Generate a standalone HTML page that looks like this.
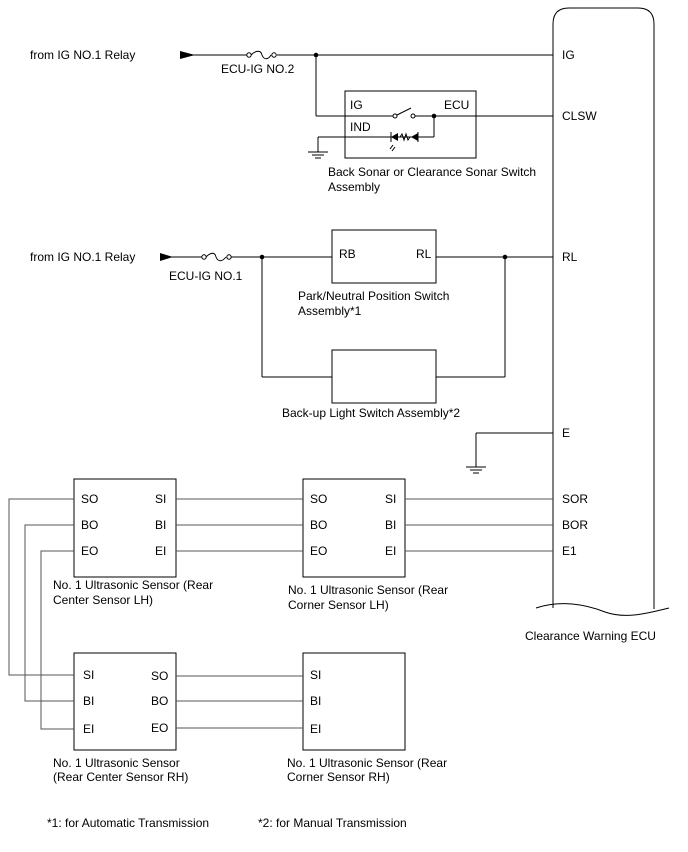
<!DOCTYPE html>
<html><head><meta charset="utf-8"><style>
html,body{margin:0;padding:0;background:#fff;}
svg{display:block;}
text{font-family:"Liberation Sans",Arial,sans-serif;font-size:12px;fill:#000;}
</style></head><body>
<svg width="688" height="852" viewBox="0 0 688 852" xmlns="http://www.w3.org/2000/svg">
<g stroke="#000" stroke-width="1" fill="none">
<path d="M553,608 L553,24 Q553,8 569,8 L638,8 Q654,8 654,24 L654,609"/>
<path d="M536,608 C560,600 585,604 605,612 C625,619 645,614 669,608"/>
<line x1="180" y1="55" x2="248" y2="55"/>
<path d="M251,55 C256,50 261,50 262,55 C264,60 268,60 271,55"/>
<line x1="277" y1="55" x2="553" y2="55"/>
<line x1="316" y1="55" x2="316" y2="116"/>
<rect x="345" y="91" width="131" height="67"/>
<line x1="316" y1="116" x2="393" y2="116"/>
<line x1="397" y1="115" x2="411" y2="108"/>
<line x1="415" y1="116" x2="553" y2="116"/>
<line x1="434" y1="116" x2="434" y2="137"/>
<line x1="318" y1="137" x2="434" y2="137"/>
<line x1="318" y1="137" x2="318" y2="152"/>
<line x1="308" y1="152" x2="328" y2="152"/>
<line x1="312" y1="155" x2="324" y2="155"/>
<line x1="315" y1="158" x2="321" y2="158"/>
<line x1="391" y1="132" x2="391" y2="142"/>
<line x1="418" y1="132" x2="418" y2="142"/>
<path d="M400,137 l2,-3 l2,6 l2,-6 l2,6 l2,-3"/>
<line x1="393" y1="145" x2="390" y2="149"/><line x1="395" y1="147" x2="392" y2="151"/>
<line x1="160" y1="257" x2="203" y2="257"/>
<path d="M206,257 C211,252 215,252 216,257 C218,262 222,262 226,257"/>
<line x1="231" y1="257" x2="332" y2="257"/>
<rect x="332" y="230" width="104" height="53"/>
<line x1="436" y1="257" x2="553" y2="257"/>
<line x1="262" y1="257" x2="262" y2="377"/>
<line x1="505" y1="257" x2="505" y2="377"/>
<rect x="332" y="350" width="104" height="53"/>
<line x1="262" y1="377" x2="332" y2="377"/>
<line x1="436" y1="377" x2="505" y2="377"/>
<line x1="476" y1="433" x2="553" y2="433"/>
<line x1="476" y1="433" x2="476" y2="467"/>
<line x1="466" y1="467" x2="486" y2="467"/>
<line x1="470" y1="470" x2="482" y2="470"/>
<line x1="473" y1="473" x2="479" y2="473"/>
<rect x="74" y="479" width="102" height="98"/>
<rect x="303" y="479" width="102" height="98"/>
<rect x="74" y="653" width="102" height="97"/>
<rect x="303" y="653" width="102" height="97"/>
<g stroke="#555">
<line x1="176" y1="499" x2="303" y2="499"/>
<line x1="176" y1="525" x2="303" y2="525"/>
<line x1="176" y1="551" x2="303" y2="551"/>
<line x1="405" y1="499" x2="553" y2="499"/>
<line x1="405" y1="525" x2="553" y2="525"/>
<line x1="405" y1="551" x2="553" y2="551"/>
<polyline points="74,499 9,499 9,675 74,675"/>
<polyline points="74,525 25,525 25,701 74,701"/>
<polyline points="74,551 41,551 41,729 74,729"/>
<line x1="176" y1="676" x2="303" y2="676"/>
<line x1="176" y1="701" x2="303" y2="701"/>
<line x1="176" y1="728" x2="303" y2="728"/>
</g>
</g>
<g fill="#000">
<path d="M180,51 L195,55 L180,59 Z"/>
<path d="M160,253 L173,257 L160,261 Z"/>
<circle cx="316" cy="55" r="2.3"/>
<circle cx="434" cy="116" r="2.3"/>
<circle cx="262" cy="257" r="2.3"/>
<circle cx="505" cy="257" r="2.3"/>
<path d="M391,137 L398,133 L398,141 Z"/>
<path d="M411,137 L418,133 L418,141 Z"/>
</g>
<g fill="#fff" stroke="#000">
<circle cx="249" cy="55" r="2.2"/><circle cx="274" cy="55" r="2.2"/>
<circle cx="204" cy="257" r="2.2"/><circle cx="229" cy="257" r="2.2"/>
<circle cx="395" cy="116" r="2"/><circle cx="413" cy="116" r="2"/>
</g>
<text x="30" y="59">from IG NO.1 Relay</text>
<text x="221" y="73">ECU-IG NO.2</text>
<text x="562" y="59">IG</text>
<text x="350" y="109">IG</text>
<text x="444" y="109">ECU</text>
<text x="350" y="131">IND</text>
<text x="562" y="120">CLSW</text>
<text x="328" y="176">Back Sonar or Clearance Sonar Switch</text>
<text x="328" y="191">Assembly</text>
<text x="30" y="261">from IG NO.1 Relay</text>
<text x="169" y="280">ECU-IG NO.1</text>
<text x="339" y="258">RB</text>
<text x="416" y="258">RL</text>
<text x="562" y="261">RL</text>
<text x="298" y="300">Park/Neutral Position Switch</text>
<text x="298" y="315">Assembly*1</text>
<text x="282" y="417">Back-up Light Switch Assembly*2</text>
<text x="562" y="437">E</text>
<text x="81" y="503">SO</text><text x="155" y="503">SI</text>
<text x="81" y="529">BO</text><text x="155" y="529">BI</text>
<text x="81" y="555">EO</text><text x="155" y="555">EI</text>
<text x="310" y="503">SO</text><text x="385" y="503">SI</text>
<text x="310" y="529">BO</text><text x="385" y="529">BI</text>
<text x="310" y="555">EO</text><text x="385" y="555">EI</text>
<text x="562" y="503">SOR</text>
<text x="562" y="529">BOR</text>
<text x="562" y="555">E1</text>
<text x="53" y="589">No. 1 Ultrasonic Sensor (Rear</text>
<text x="53" y="604">Center Sensor LH)</text>
<text x="288" y="594">No. 1 Ultrasonic Sensor (Rear</text>
<text x="288" y="609">Corner Sensor LH)</text>
<text x="525" y="640">Clearance Warning ECU</text>
<text x="83" y="679">SI</text><text x="151" y="680">SO</text>
<text x="83" y="705">BI</text><text x="151" y="705">BO</text>
<text x="83" y="733">EI</text><text x="151" y="732">EO</text>
<text x="310" y="679">SI</text>
<text x="310" y="705">BI</text>
<text x="310" y="733">EI</text>
<text x="53" y="767">No. 1 Ultrasonic Sensor</text>
<text x="53" y="781">(Rear Center Sensor RH)</text>
<text x="287" y="767">No. 1 Ultrasonic Sensor (Rear</text>
<text x="287" y="781">Corner Sensor RH)</text>
<text x="47" y="827">*1: for Automatic Transmission</text>
<text x="258" y="827">*2: for Manual Transmission</text>
</svg>
</body></html>
